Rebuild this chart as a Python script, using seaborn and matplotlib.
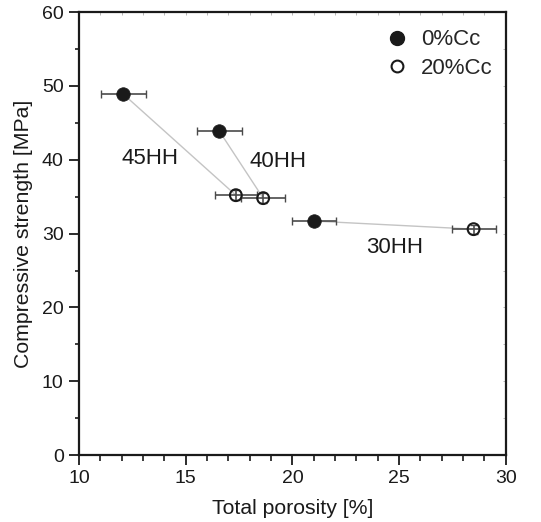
import matplotlib
matplotlib.use("Agg")
import matplotlib.pyplot as plt
from matplotlib.lines import Line2D
import seaborn as sns
import pandas as pd

# Mix designs (hemihydrate content) and measured values
mixes = ["45HH", "40HH", "30HH"]
porosity_0 = [12.07, 16.57, 21.0]
strength_0 = [48.9, 43.9, 31.7]
porosity_err_0 = [1.05, 1.05, 1.04]

porosity_20 = [17.35, 18.63, 28.49]
strength_20 = [35.2, 34.8, 30.6]
porosity_err_20 = [1.0, 1.02, 1.03]
strength_err_20 = [0.7, 0.7, 0.6]

series = ["0%Cc", "20%Cc"]

df = pd.DataFrame({
    "mix": mixes * 2,
    "series": [series[0]] * 3 + [series[1]] * 3,
    "porosity": porosity_0 + porosity_20,
    "strength": strength_0 + strength_20,
})

sns.set_theme(style="ticks")
plt.rcParams["font.family"] = ["Liberation Sans", "DejaVu Sans"]

ink = "#1a1a1a"
fig = plt.figure(figsize=(5.41, 5.22), dpi=100)
ax = fig.add_axes([0.146, 0.128, 0.789, 0.849])

# Thin grey lines joining each mix with and without Cc
sns.lineplot(data=df, x="porosity", y="strength", units="mix", estimator=None,
             sort=False, color="#c4c4c4", lw=1.0, ax=ax, legend=False, zorder=1)

# Error bars
ax.errorbar(porosity_0, strength_0, xerr=porosity_err_0, fmt="none",
            ecolor="#4a4a4a", elinewidth=1.2, capsize=3, capthick=1.0, zorder=2)
ax.errorbar(porosity_20, strength_20, xerr=porosity_err_20, yerr=strength_err_20,
            fmt="none", ecolor="#4a4a4a", elinewidth=1.2, capsize=3, capthick=1.0,
            zorder=2)

# Markers
sns.scatterplot(x=porosity_0, y=strength_0, s=95, color=ink,
                edgecolor=ink, linewidth=0.5, ax=ax, zorder=3, legend=False)
sns.scatterplot(x=porosity_20, y=strength_20, s=72, facecolor="none",
                edgecolor=ink, linewidth=1.5, ax=ax, zorder=3, legend=False)

# Mix labels
label_pos = {"45HH": (13.31, 40.1), "40HH": (19.31, 39.7), "30HH": (24.8, 28.1)}
for m in mixes:
    ax.text(*label_pos[m], m, ha="center", va="center", fontsize=16, color=ink)

ax.set_xlim(10, 30)
ax.set_ylim(0, 60)
ax.set_xticks([10, 15, 20, 25, 30])
ax.set_yticks([0, 10, 20, 30, 40, 50, 60])
ax.set_xticks(range(10, 31), minor=True)
ax.set_yticks(range(0, 61, 5), minor=True)
ax.tick_params(axis="both", which="major", direction="out", length=7, width=1.3,
               labelsize=14, colors=ink, pad=4)
ax.tick_params(axis="x", which="minor", direction="out", length=4, width=1.2, colors=ink)
ax.tick_params(axis="y", which="minor", direction="out", length=3, width=1.2, colors=ink)
for sp in ax.spines.values():
    sp.set_linewidth(1.6)
    sp.set_color(ink)

# Faint inner ticks along the top and right edges
top = ax.secondary_xaxis("top")
top.set_xticks(range(10, 31))
top.tick_params(direction="in", length=2, width=0.5, colors="#9a9a9a", labeltop=False)
top.spines["top"].set_visible(False)
right = ax.secondary_yaxis("right")
right.set_yticks(range(0, 61, 5))
right.tick_params(direction="in", length=2, width=0.5, colors="#9a9a9a", labelright=False)
right.spines["right"].set_visible(False)

ax.set_xlabel("Total porosity [%]", fontsize=15.3, color=ink, labelpad=8)
ax.set_ylabel("Compressive strength [MPa]", fontsize=15.3, color=ink, labelpad=6)

handles = [
    Line2D([], [], marker="o", ls="none", markersize=10, color=ink),
    Line2D([], [], marker="o", ls="none", markersize=8.5, markerfacecolor="none",
           markeredgecolor=ink, markeredgewidth=1.5),
]
ax.legend(handles, series, loc="upper left", bbox_to_anchor=(0.666, 1.006),
          frameon=False, fontsize=16, handletextpad=0.5, labelspacing=0.35,
          handlelength=1.2)

fig.savefig("out.png", dpi=100)
